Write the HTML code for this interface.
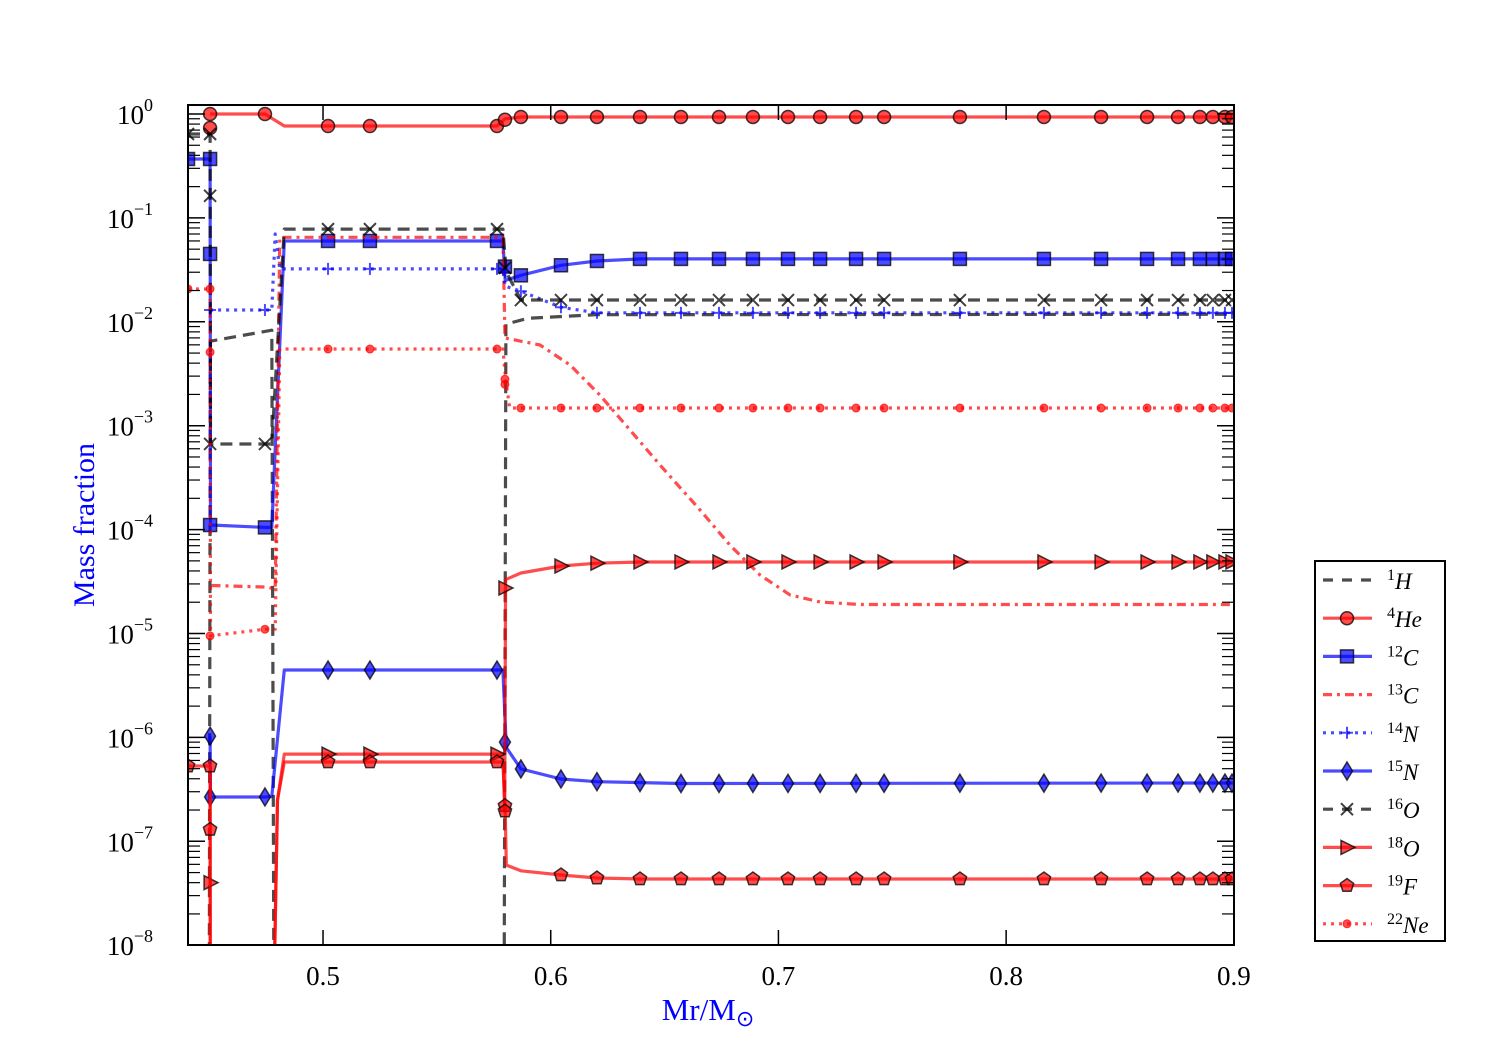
<!DOCTYPE html>
<html><head><meta charset="utf-8"><style>
body{margin:0;background:#fff;}
svg{display:block;font-family:"Liberation Serif",serif;}
</style></head><body>
<svg id="chart" width="1500" height="1050" viewBox="0 0 1500 1050" xmlns="http://www.w3.org/2000/svg">
<rect width="1500" height="1050" fill="#fff"/>
<defs><clipPath id="clip"><rect x="188" y="105" width="1046" height="840"/></clipPath></defs>
<g id="series" clip-path="url(#clip)"></g>
<g id="axes"></g>
<text x="0" y="0" transform="translate(94,525) rotate(-90)" text-anchor="middle" font-size="30" fill="#0000ff">Mass fraction</text>
<text x="708" y="1020" text-anchor="middle" font-size="31" fill="#0000ff">Mr/M<tspan font-size="22" dy="6">⊙</tspan></text>
<g id="legend"></g>
</svg>
<script>
const xTicks=[0.5,0.6,0.7,0.8,0.9];
const yTickExps=[0,-1,-2,-3,-4,-5,-6,-7,-8];
const commonMx=[0.6045,0.6203,0.6392,0.6572,0.6739,0.6888,0.7042,0.7183,0.7341,0.7464,0.7797,0.8166,0.8417,0.8619,0.8755,0.8851,0.8908,0.8961,0.8992];

const hX=[0.4500,0.4505,0.4775,0.4785,0.5795,0.5803,0.590,0.620,0.9];
const hY=[1e-9,0.0065,0.0083,1e-9,1e-9,0.0095,0.0108,0.0117,0.0118];

const heX=[0.4504,0.4745,0.4830,0.5764,0.5800,0.5869,0.9];
const heY=[1.0,1.0,0.766,0.766,0.90,0.936,0.936];
const heMx=[0.4504,0.4504,0.4745,0.5022,0.5206,0.5764,0.5799,0.5869];
const heMy=[1.0,0.733,1.0,0.766,0.766,0.766,0.88,0.936];

const c12X=[0.4407,0.4504,0.4506,0.4745,0.4775,0.4830,0.5790,0.5800,0.5869,0.6045,0.6203,0.6392,0.9];
const c12Y=[0.369,0.369,1.107e-4,1.05e-4,1.05e-4,0.06,0.06,0.025,0.028,0.035,0.0385,0.0403,0.0403];
const c12Mx=[0.4407,0.4504,0.4504,0.4504,0.4745,0.5022,0.5206,0.5764,0.5799,0.5869];
const c12My=[0.369,0.369,0.045,1.107e-4,1.05e-4,0.06,0.06,0.06,0.034,0.028];

const c13X=[0.4510,0.4745,0.4790,0.4810,0.5790,0.5799,0.5953,0.6085,0.6216,0.6348,0.6480,0.6655,0.6787,0.6919,0.7051,0.7183,0.7358,0.9];
const c13Y=[2.9e-5,2.8e-5,2.7e-5,0.065,0.065,0.00698,0.00598,0.00384,0.00197,9.1e-4,4.19e-4,1.55e-4,7.1e-5,3.66e-5,2.35e-5,2.01e-5,1.9e-5,1.9e-5];

const n14X=[0.4504,0.4745,0.4775,0.4790,0.4810,0.5790,0.5800,0.5869,0.6045,0.6203,0.9];
const n14Y=[0.013,0.013,0.013,0.07,0.0323,0.0323,0.022,0.0197,0.0138,0.0122,0.0122];
const n14Mx=[0.4504,0.4745,0.5022,0.5206,0.5764,0.5799,0.5869];
const n14My=[0.013,0.013,0.0323,0.0323,0.0323,0.03,0.0197];

const n15X=[0.4504,0.4506,0.4745,0.4775,0.4830,0.5790,0.5805,0.5869,0.6045,0.6203,0.6572,0.9];
const n15Y=[1.03e-6,2.67e-7,2.67e-7,2.7e-7,4.45e-6,4.45e-6,8e-7,4.97e-7,3.98e-7,3.75e-7,3.6e-7,3.64e-7];
const n15Mx=[0.4504,0.4504,0.4745,0.5022,0.5206,0.5764,0.5799,0.5869];
const n15My=[1.03e-6,2.67e-7,2.67e-7,4.45e-6,4.45e-6,4.45e-6,9e-7,4.97e-7];

const o16X=[0.4407,0.4504,0.4506,0.4745,0.4775,0.4830,0.5790,0.5805,0.5869,0.9];
const o16Y=[0.642,0.642,6.67e-4,6.67e-4,6.67e-4,0.078,0.078,0.03,0.0162,0.0162];
const o16Mx=[0.4407,0.4504,0.4504,0.4504,0.4745,0.5022,0.5206,0.5764,0.5799,0.5869];
const o16My=[0.642,0.642,0.163,6.67e-4,6.67e-4,0.078,0.078,0.078,0.033,0.0162];

const o18X=[0.4504,0.4505,0.4780,0.4800,0.4830,0.5790,0.5798,0.5802,0.5869,0.6045,0.6203,0.6392,0.9];
const o18Y=[5e-7,1e-9,1e-9,2.5e-7,6.9e-7,6.9e-7,2e-7,3.3e-5,3.82e-5,4.46e-5,4.75e-5,4.88e-5,4.88e-5];
const o18Mx=[0.4504,0.5022,0.5206,0.5764,0.5799];
const o18My=[4e-8,6.9e-7,6.9e-7,6.9e-7,2.74e-5];

const f19X=[0.4407,0.4504,0.4505,0.4780,0.4800,0.4830,0.5790,0.5800,0.5805,0.5869,0.6045,0.6203,0.6392,0.9];
const f19Y=[5.3e-7,5.3e-7,1e-9,1e-9,2.5e-7,5.8e-7,5.8e-7,2e-7,5.9e-8,5.2e-8,4.74e-8,4.43e-8,4.34e-8,4.34e-8];
const f19Mx=[0.4407,0.4504,0.4504,0.5022,0.5206,0.5764,0.5799,0.5799];
const f19My=[5.3e-7,5.3e-7,1.3e-7,5.8e-7,5.8e-7,5.8e-7,2.2e-7,1.95e-7];

const ne22X=[0.4407,0.4504,0.4506,0.4745,0.4790,0.4810,0.5790,0.5803,0.5820,0.9];
const ne22Y=[0.0207,0.0207,9.5e-6,1.1e-5,1.1e-5,0.00547,0.00547,0.0027,0.00148,0.00148];
const ne22Mx=[0.4407,0.4504,0.4504,0.4504,0.4745,0.5022,0.5206,0.5764,0.5799,0.5799,0.5869];
const ne22My=[0.0207,0.0207,0.0051,9.5e-6,1.1e-5,0.00547,0.00547,0.00547,0.0028,0.0025,0.00148];

const X0=0.4407, XPX=2277, PX0=188, Y0=114, DEC=103.9;
function xs(v){return PX0+(v-X0)*XPX;}
function ys(v){return Y0-Math.log10(v)*DEC;}
function interp(X,Y,x){for(let i=0;i<X.length-1;i++){if(x>=X[i]&&x<=X[i+1]){const t=(x-X[i])/(X[i+1]-X[i]);return Math.pow(10,Math.log10(Y[i])+t*(Math.log10(Y[i+1])-Math.log10(Y[i])));}}return Y[Y.length-1];}

const NS="http://www.w3.org/2000/svg";
const RED="rgba(255,0,0,0.7)",BLUE="rgba(0,0,255,0.7)",GRAY="rgba(0,0,0,0.7)";
const series=[
 {name:"1H",sup:"1",el:"H",X:hX,Y:hY,c:GRAY,dash:"12,7",m:null},
 {name:"4He",sup:"4",el:"He",X:heX,Y:heY,c:RED,dash:null,m:"circle",mx:heMx,my:heMy},
 {name:"12C",sup:"12",el:"C",X:c12X,Y:c12Y,c:BLUE,dash:null,m:"square",mx:c12Mx,my:c12My},
 {name:"13C",sup:"13",el:"C",X:c13X,Y:c13Y,c:RED,dash:"9,5,3,5",m:null},
 {name:"14N",sup:"14",el:"N",X:n14X,Y:n14Y,c:BLUE,dash:"3,5",m:"plus",mx:n14Mx,my:n14My},
 {name:"15N",sup:"15",el:"N",X:n15X,Y:n15Y,c:BLUE,dash:null,m:"diamond",mx:n15Mx,my:n15My},
 {name:"16O",sup:"16",el:"O",X:o16X,Y:o16Y,c:GRAY,dash:"12,7",m:"x",mx:o16Mx,my:o16My},
 {name:"18O",sup:"18",el:"O",X:o18X,Y:o18Y,c:RED,dash:null,m:"tri",mx:o18Mx,my:o18My},
 {name:"19F",sup:"19",el:"F",X:f19X,Y:f19Y,c:RED,dash:null,m:"pent",mx:f19Mx,my:f19My},
 {name:"22Ne",sup:"22",el:"Ne",X:ne22X,Y:ne22Y,c:RED,dash:"3,5",m:"dot",mx:ne22Mx,my:ne22My}
];
function mk(tag,attrs,parent){const e=document.createElementNS(NS,tag);for(const k in attrs)e.setAttribute(k,attrs[k]);parent.appendChild(e);return e;}
function marker(type,x,y,c,g){
 const edge="rgba(0,0,0,0.75)";let e;
 if(type==="circle")e=mk("circle",{cx:x,cy:y,r:6.5,fill:c,stroke:edge,"stroke-width":1.5},g);
 else if(type==="square")e=mk("rect",{x:x-6.5,y:y-6.5,width:13,height:13,fill:c,stroke:edge,"stroke-width":1.5},g);
 else if(type==="diamond")e=mk("polygon",{points:`${x},${y-9} ${x+5.5},${y} ${x},${y+9} ${x-5.5},${y}`,fill:c,stroke:edge,"stroke-width":1.5},g);
 else if(type==="tri")e=mk("polygon",{points:`${x-6},${y-7} ${x+8},${y} ${x-6},${y+7}`,fill:c,stroke:edge,"stroke-width":1.5},g);
 else if(type==="pent"){let p=[];for(let i=0;i<5;i++){const a=-Math.PI/2+i*2*Math.PI/5;p.push((x+7*Math.cos(a)).toFixed(1)+","+(y+7*Math.sin(a)).toFixed(1));}e=mk("polygon",{points:p.join(" "),fill:c,stroke:edge,"stroke-width":1.5},g);}
 else if(type==="dot")e=mk("circle",{cx:x,cy:y,r:4,fill:c,stroke:c,"stroke-width":1},g);
 else if(type==="plus")e=mk("path",{d:`M${x-6},${y}H${x+6}M${x},${y-6}V${y+6}`,stroke:c,"stroke-width":2,fill:"none"},g);
 else if(type==="x")e=mk("path",{d:`M${x-6},${y-6}L${x+6},${y+6}M${x-6},${y+6}L${x+6},${y-6}`,stroke:edge,"stroke-width":2,fill:"none"},g);
 return e;
}
const sg=document.getElementById("series");
series.forEach(s=>{
 const g=mk("g",{},sg);
 
 
 const d=s.X.map((x,i)=>(i?"L":"M")+xs(x).toFixed(1)+","+ys(s.Y[i]).toFixed(1)).join("");
 const p=mk("path",{d:d,fill:"none",stroke:s.c,"stroke-width":3.2,"stroke-linejoin":"round"},g);
 if(s.dash)p.setAttribute("stroke-dasharray",s.dash);
 
 
 if(s.m){
  const pts=s.mx.map((x,i)=>[x,s.my[i]]).concat(commonMx.map(x=>[x,interp(s.X,s.Y,x)]));
  pts.forEach(pt=>{const e=marker(s.m,xs(pt[0]),ys(pt[1]),s.c,g);
   
   });
 }
});
const ax=document.getElementById("axes");
mk("rect",{x:188,y:105,width:1046,height:840,fill:"none",stroke:"#000","stroke-width":2},ax);
xTicks.forEach(t=>{const x=xs(t);
 mk("line",{x1:x,y1:945,x2:x,y2:930,stroke:"#000","stroke-width":1.5},ax);
 mk("line",{x1:x,y1:105,x2:x,y2:120,stroke:"#000","stroke-width":1.5},ax);
 const tx=mk("text",{x:x,y:985,"text-anchor":"middle","font-size":27},ax);tx.textContent=t.toFixed(1);
 
 
});
yTickExps.forEach(e=>{const y=ys(Math.pow(10,e));
 mk("line",{x1:188,y1:y,x2:205,y2:y,stroke:"#000","stroke-width":1.5},ax);
 mk("line",{x1:1234,y1:y,x2:1217,y2:y,stroke:"#000","stroke-width":1.5},ax);
 if(e<0)for(let k=2;k<10;k++){const yy=ys(k*Math.pow(10,e));if(yy<105)continue;
  mk("line",{x1:188,y1:yy,x2:200,y2:yy,stroke:"#000","stroke-width":1.2},ax);
  mk("line",{x1:1234,y1:yy,x2:1222,y2:yy,stroke:"#000","stroke-width":1.2},ax);}
 const tx=mk("text",{x:153,y:y+10,"text-anchor":"end","font-size":27},ax);
 
 
 tx.innerHTML="10<tspan font-size='18' dy='-13'>"+(e<0?"\u2212"+(-e):e)+"</tspan>";
});
const lg=document.getElementById("legend");
mk("rect",{x:1315,y:561,width:130,height:380,fill:"#fff",stroke:"#000","stroke-width":2},lg);
series.forEach((s,i)=>{const y=580+i*38.2;
 const g=mk("g",{},lg);
 
 
 const l=mk("line",{x1:1323,y1:y,x2:1372,y2:y,stroke:s.c,"stroke-width":3.2},g);
 if(s.dash)l.setAttribute("stroke-dasharray",s.dash==="12,7"?"10,9":s.dash);
 if(s.m)marker(s.m,1347,y,s.c,g);
 const t=mk("text",{x:1387,y:y+9,"font-size":23},g);
 t.innerHTML="<tspan font-size='16' dy='-9'>"+s.sup+"</tspan><tspan dy='9' font-style='italic'>"+s.el+"</tspan>";
});
</script>
</body></html>
